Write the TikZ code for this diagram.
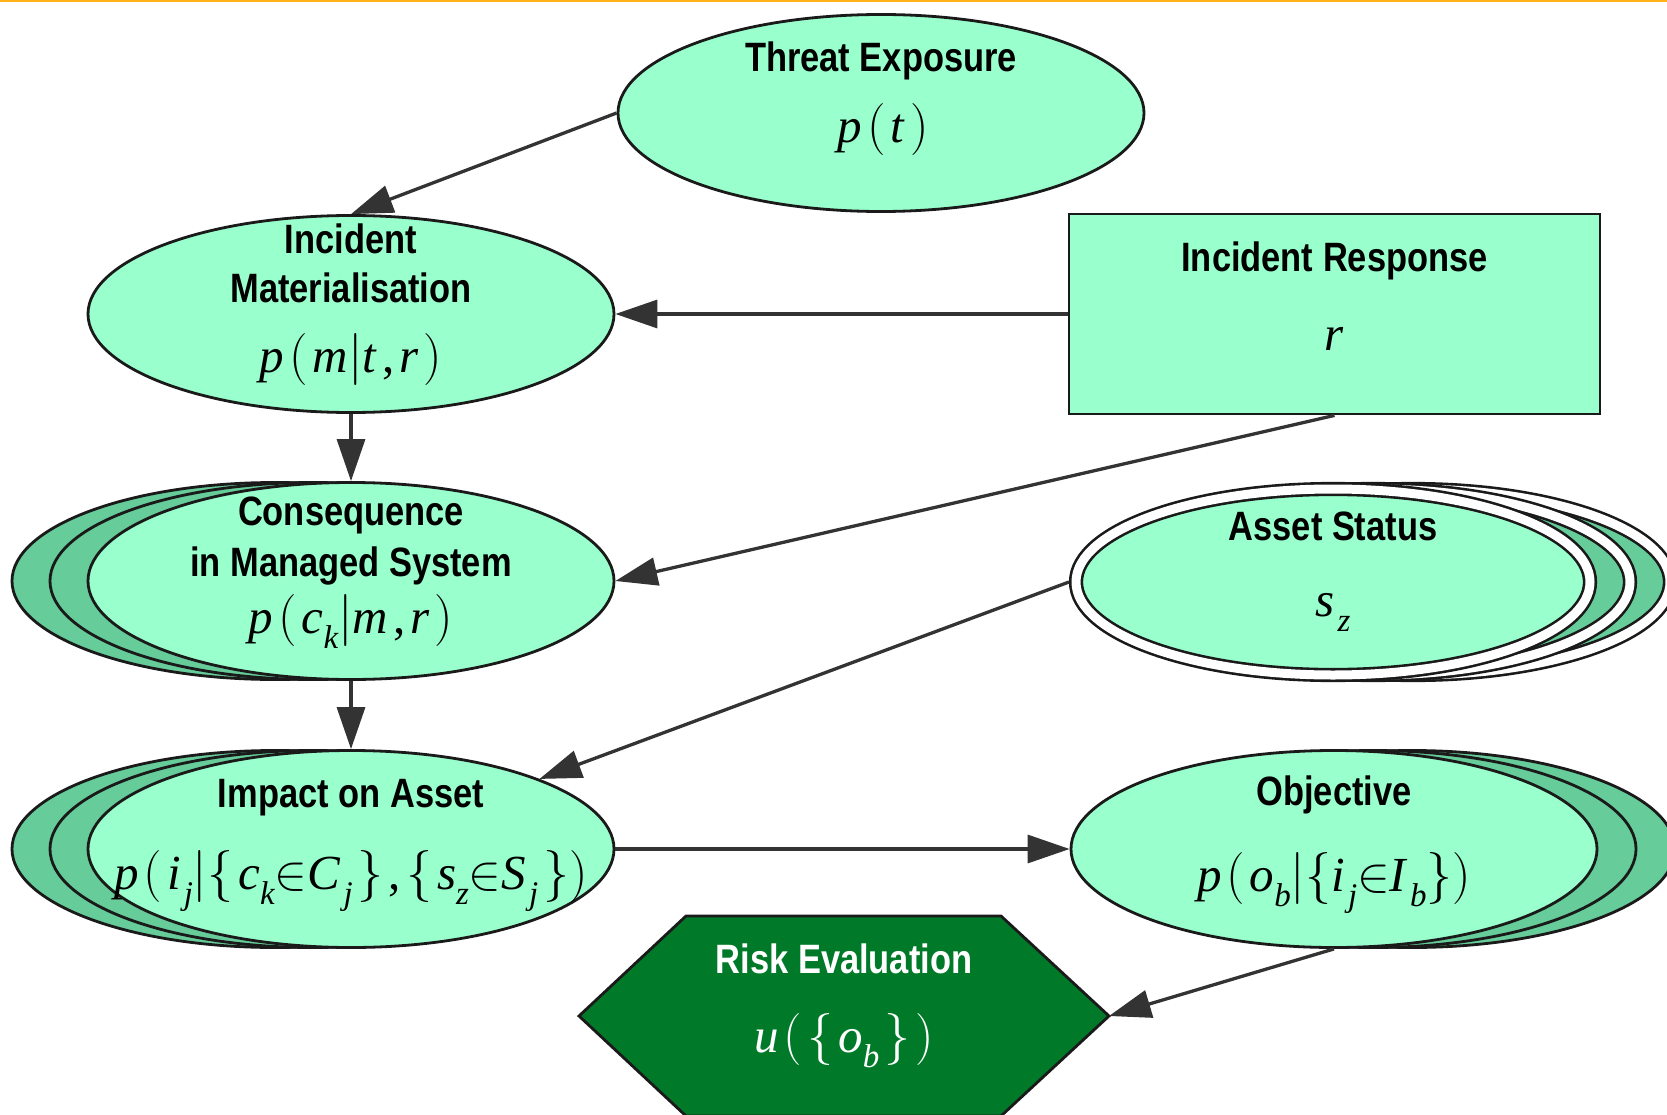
\RequirePackage{fix-cm}
\documentclass[tikz,border=0pt]{standalone}
\usepackage{fontspec}
\usetikzlibrary{arrows.meta,shapes.geometric}
\newfontfamily\labfont[FakeStretch=0.84]{Liberation Sans}
\newfontfamily\frm{Liberation Serif}
\newcommand\iv[1]{\textit{#1}}
\newcommand\bk[1]{{\fontsize{52}{52}\selectfont$#1$}}
\newcommand\gp{\kern5pt}
\newcommand\sbs[1]{\raisebox{-0.32em}{\fontsize{33}{33}\selectfont\itshape #1}}
\newcommand\inn{\ensuremath{\in}}
\definecolor{mint}{HTML}{99FFCC}
\definecolor{backgreen}{HTML}{66CC99}
\definecolor{riskgreen}{HTML}{007A29}
\definecolor{edgec}{HTML}{1A1A1A}
\definecolor{arrc}{HTML}{333333}
\definecolor{topline}{HTML}{FFB21A}
\tikzset{
  ell/.style={ellipse, draw=edgec, line width=2.8pt, fill=mint,
    minimum width=526pt, minimum height=197pt, inner sep=0pt},
  backell/.style={ell, fill=backgreen},
  dbl/.style={ellipse, draw=edgec, line width=2.6pt, double=white,
    double distance=9pt, fill=mint, minimum width=514pt,
    minimum height=186pt, inner sep=0pt, outer sep=7pt},
  dblback/.style={dbl, fill=backgreen},
  boxnode/.style={rectangle, draw=edgec, line width=2.8pt, fill=mint,
    minimum width=531pt, minimum height=200pt, inner sep=0pt},
  ttl/.style={font=\labfont\bfseries\fontsize{41}{47}\selectfont,
    inner sep=0pt, anchor=base},
  mth/.style={font=\frm\fontsize{49}{54}\selectfont, inner sep=0pt, anchor=base},
  con/.style={draw=arrc, line width=3.3pt,
    -{Triangle[length=42pt,width=28pt]}}
}
\begin{document}
\begin{tikzpicture}[x=1pt,y=-1pt]
\useasboundingbox (0,0) rectangle (1667,1115);
\clip (0,0) rectangle (1667,1115);
\fill[white] (0,0) rectangle (1667,1115);
\fill[topline] (0,0) rectangle (1667,2.5);

% Threat exposure
\node[ell] (threat) at (881,113) {};
\node[ttl] (threat-t) at (881,72) {Threat Exposure};
\node[mth] (threat-m) at (883,143) {\iv{p}\gp\bk{(}\gp\iv{t}\gp\bk{)}};

% Incident materialisation
\node[ell] (im) at (351,314) {};
\node[ttl] (im-t1) at (351,254) {Incident};
\node[ttl] (im-t2) at (351,302) {Materialisation};
\node[mth] (im-m) at (351,372) {\iv{p}\gp\bk{(}\gp\iv{m}\bk{|}\iv{t}\gp,\gp\iv{r}\gp\bk{)}};

% Incident response
\node[boxnode] (ir) at (1334.5,314) {};
\node[ttl] (ir-t) at (1334.5,272) {Incident Response};
\node[mth] (ir-m) at (1334.5,350) {\iv{r}};

% Consequence
\node[backell] (cons3) at (275,581) {};
\node[backell] (cons2) at (313,581) {};
\node[ell] (cons) at (351,581) {};
\node[ttl] (cons-t1) at (351,525) {Consequence};
\node[ttl] (cons-t2) at (351,576) {in Managed System};
\node[mth] (cons-m) at (351,633) {\iv{p}\gp\bk{(}\gp\iv{c}\sbs{k}\bk{|}\iv{m}\gp,\gp\iv{r}\gp\bk{)}};

% Asset status
\node[dblback] (asset3) at (1413,582) {};
\node[dblback] (asset2) at (1373,582) {};
\node[dbl] (asset) at (1333,582) {};
\node[ttl] (asset-t) at (1333,540) {Asset Status};
\node[mth] (asset-m) at (1333,616) {\iv{s}\kern3pt\sbs{z}};

% Impact on asset
\node[backell] (imp3) at (275,849) {};
\node[backell] (imp2) at (313,849) {};
\node[ell] (imp) at (351,849) {};
\node[ttl] (imp-t) at (351,807) {Impact on Asset};
\node[mth] (imp-m) at (351,889) {\iv{p}\gp\bk{(}\gp\iv{i}\kern3pt\sbs{j}\bk{|}\bk{\{}\gp\iv{c}\sbs{k}\inn\iv{C}\kern3pt\sbs{j}\gp\bk{\}}\gp,\gp\bk{\{}\gp\iv{s}\sbs{z}\inn\iv{S}\kern3pt\sbs{j}\gp\bk{\}}\bk{)}};

% Objective
\node[backell] (obj3) at (1412,849) {};
\node[backell] (obj2) at (1373,849) {};
\node[ell] (obj) at (1334,849) {};
\node[ttl] (obj-t) at (1334,805) {Objective};
\node[mth] (obj-m) at (1334,891) {\iv{p}\gp\bk{(}\gp\iv{o}\sbs{b}\bk{|}\bk{\{}\iv{i}\kern3pt\sbs{j}\inn\iv{I}\kern2pt\sbs{b}\bk{\}}\bk{)}};

% Risk evaluation
\draw[draw=edgec, line width=2.8pt, fill=riskgreen]
  (579,1016) -- (686,916) -- (1001,916) -- (1109,1016) -- (1001,1116) -- (686,1116) -- cycle;
\coordinate (riskE) at (1109,1016);
\node[ttl, text=white] (risk-t) at (844,973) {Risk Evaluation};
\node[mth, text=white] (risk-m) at (844,1052) {\iv{u}\gp\bk{(}\gp\bk{\{}\gp\iv{o}\sbs{b}\gp\bk{\}}\gp\bk{)}};

% connectors
\draw[con] (threat.west) -- (im.north);
\draw[con] (ir.west) -- (im.east);
\draw[con] (im.south) -- (cons.north);
\draw[con] (ir.south) -- (cons.east);
\draw[con] (cons.south) -- (imp.north);
\draw[con] (asset.west) -- (imp);
\draw[con] (imp.east) -- (obj.west);
\draw[con] (obj.south) -- (riskE);
\end{tikzpicture}
\end{document}
